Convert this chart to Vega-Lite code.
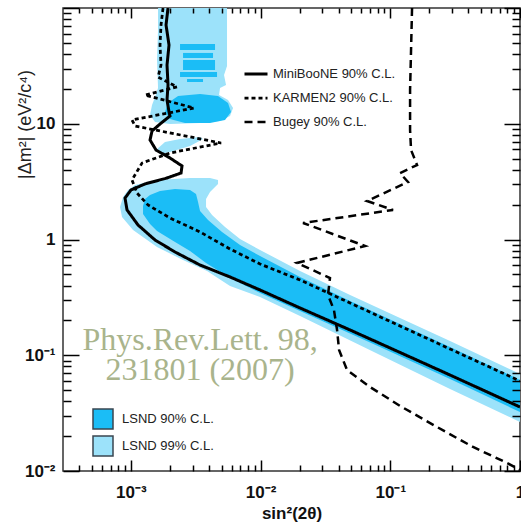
{
  "$schema": "https://vega.github.io/schema/vega-lite/v6.json",
  "width": 457,
  "height": 463,
  "autosize": "none",
  "padding": {"left": 63, "top": 8, "right": 1, "bottom": 52},
  "background": "white",
  "config": {
    "view": {"stroke": "#333333", "strokeWidth": 1.5},
    "font": "Liberation Sans"
  },
  "datasets": {
    "lsnd99": [
      {"cl": "LSND 99% C.L.", "poly": "L1", "o": 1, "x": 0.001621, "y": 100},
      {"cl": "LSND 99% C.L.", "poly": "L1", "o": 2, "x": 0.005515, "y": 100},
      {"cl": "LSND 99% C.L.", "poly": "L1", "o": 3, "x": 0.005515, "y": 31.5},
      {"cl": "LSND 99% C.L.", "poly": "L1", "o": 4, "x": 0.005229, "y": 26.4},
      {"cl": "LSND 99% C.L.", "poly": "L1", "o": 5, "x": 0.005418, "y": 21.6},
      {"cl": "LSND 99% C.L.", "poly": "L1", "o": 6, "x": 0.004871, "y": 20.4},
      {"cl": "LSND 99% C.L.", "poly": "L1", "o": 7, "x": 0.004786, "y": 17.7},
      {"cl": "LSND 99% C.L.", "poly": "L1", "o": 8, "x": 0.005614, "y": 16.04},
      {"cl": "LSND 99% C.L.", "poly": "L1", "o": 9, "x": 0.006137, "y": 13.68},
      {"cl": "LSND 99% C.L.", "poly": "L1", "o": 10, "x": 0.005817, "y": 11.67},
      {"cl": "LSND 99% C.L.", "poly": "L1", "o": 11, "x": 0.004871, "y": 10.56},
      {"cl": "LSND 99% C.L.", "poly": "L1", "o": 12, "x": 0.003416, "y": 10.15},
      {"cl": "LSND 99% C.L.", "poly": "L1", "o": 13, "x": 0.002005, "y": 9.95},
      {"cl": "LSND 99% C.L.", "poly": "L1", "o": 14, "x": 0.001537, "y": 10.35},
      {"cl": "LSND 99% C.L.", "poly": "L1", "o": 15, "x": 0.001406, "y": 11.9},
      {"cl": "LSND 99% C.L.", "poly": "L1", "o": 16, "x": 0.001457, "y": 14.52},
      {"cl": "LSND 99% C.L.", "poly": "L1", "o": 17, "x": 0.001537, "y": 17.02},
      {"cl": "LSND 99% C.L.", "poly": "L1", "o": 18, "x": 0.001621, "y": 20.4},
      {"cl": "LSND 99% C.L.", "poly": "L1", "o": 19, "x": 0.001592, "y": 35.5},
      {"cl": "LSND 99% C.L.", "poly": "L1", "o": 20, "x": 0.001621, "y": 64.5},
      {"cl": "LSND 99% C.L.", "poly": "L2", "o": 1, "x": 0.001564, "y": 5.93},
      {"cl": "LSND 99% C.L.", "poly": "L2", "o": 2, "x": 0.001835, "y": 6.96},
      {"cl": "LSND 99% C.L.", "poly": "L2", "o": 3, "x": 0.002395, "y": 7.39},
      {"cl": "LSND 99% C.L.", "poly": "L2", "o": 4, "x": 0.003416, "y": 7.68},
      {"cl": "LSND 99% C.L.", "poly": "L2", "o": 5, "x": 0.003602, "y": 7.39},
      {"cl": "LSND 99% C.L.", "poly": "L2", "o": 6, "x": 0.00286, "y": 6.43},
      {"cl": "LSND 99% C.L.", "poly": "L2", "o": 7, "x": 0.002005, "y": 5.7},
      {"cl": "LSND 99% C.L.", "poly": "L2", "o": 8, "x": 0.001679, "y": 5.48},
      {"cl": "LSND 99% C.L.", "poly": "L3", "o": 1, "x": 1.0, "y": 0.0689},
      {"cl": "LSND 99% C.L.", "poly": "L3", "o": 2, "x": 0.2889, "y": 0.1328},
      {"cl": "LSND 99% C.L.", "poly": "L3", "o": 3, "x": 0.1189, "y": 0.2099},
      {"cl": "LSND 99% C.L.", "poly": "L3", "o": 4, "x": 0.049, "y": 0.3317},
      {"cl": "LSND 99% C.L.", "poly": "L3", "o": 5, "x": 0.02016, "y": 0.534},
      {"cl": "LSND 99% C.L.", "poly": "L3", "o": 6, "x": 0.00991, "y": 0.812},
      {"cl": "LSND 99% C.L.", "poly": "L3", "o": 7, "x": 0.006947, "y": 1.01},
      {"cl": "LSND 99% C.L.", "poly": "L3", "o": 8, "x": 0.005323, "y": 1.283},
      {"cl": "LSND 99% C.L.", "poly": "L3", "o": 9, "x": 0.004227, "y": 1.628},
      {"cl": "LSND 99% C.L.", "poly": "L3", "o": 10, "x": 0.0038, "y": 1.909},
      {"cl": "LSND 99% C.L.", "poly": "L3", "o": 11, "x": 0.0038, "y": 2.24},
      {"cl": "LSND 99% C.L.", "poly": "L3", "o": 12, "x": 0.004079, "y": 2.57},
      {"cl": "LSND 99% C.L.", "poly": "L3", "o": 13, "x": 0.004701, "y": 3.02},
      {"cl": "LSND 99% C.L.", "poly": "L3", "o": 14, "x": 0.004701, "y": 3.27},
      {"cl": "LSND 99% C.L.", "poly": "L3", "o": 15, "x": 0.004079, "y": 3.4},
      {"cl": "LSND 99% C.L.", "poly": "L3", "o": 16, "x": 0.00286, "y": 3.4},
      {"cl": "LSND 99% C.L.", "poly": "L3", "o": 17, "x": 0.001592, "y": 3.27},
      {"cl": "LSND 99% C.L.", "poly": "L3", "o": 18, "x": 0.001077, "y": 2.96},
      {"cl": "LSND 99% C.L.", "poly": "L3", "o": 19, "x": 0.000952, "y": 2.68},
      {"cl": "LSND 99% C.L.", "poly": "L3", "o": 20, "x": 0.000871, "y": 2.33},
      {"cl": "LSND 99% C.L.", "poly": "L3", "o": 21, "x": 0.000826, "y": 1.909},
      {"cl": "LSND 99% C.L.", "poly": "L3", "o": 22, "x": 0.000855, "y": 1.564},
      {"cl": "LSND 99% C.L.", "poly": "L3", "o": 23, "x": 0.00104, "y": 1.208},
      {"cl": "LSND 99% C.L.", "poly": "L3", "o": 24, "x": 0.001592, "y": 0.862},
      {"cl": "LSND 99% C.L.", "poly": "L3", "o": 25, "x": 0.002526, "y": 0.665},
      {"cl": "LSND 99% C.L.", "poly": "L3", "o": 26, "x": 0.003868, "y": 0.534},
      {"cl": "LSND 99% C.L.", "poly": "L3", "o": 27, "x": 0.005817, "y": 0.3965},
      {"cl": "LSND 99% C.L.", "poly": "L3", "o": 28, "x": 0.00991, "y": 0.3186},
      {"cl": "LSND 99% C.L.", "poly": "L3", "o": 29, "x": 0.02016, "y": 0.2184},
      {"cl": "LSND 99% C.L.", "poly": "L3", "o": 30, "x": 0.0834, "y": 0.1005},
      {"cl": "LSND 99% C.L.", "poly": "L3", "o": 31, "x": 0.2889, "y": 0.0511},
      {"cl": "LSND 99% C.L.", "poly": "L3", "o": 32, "x": 1.0, "y": 0.0265}
    ],
    "lsnd90": [
      {"cl": "LSND 90% C.L.", "poly": "D2", "o": 1, "x": 0.002312, "y": 17.37},
      {"cl": "LSND 90% C.L.", "poly": "D2", "o": 2, "x": 0.003416, "y": 18.07},
      {"cl": "LSND 90% C.L.", "poly": "D2", "o": 3, "x": 0.004701, "y": 17.37},
      {"cl": "LSND 90% C.L.", "poly": "D2", "o": 4, "x": 0.005614, "y": 15.11},
      {"cl": "LSND 90% C.L.", "poly": "D2", "o": 5, "x": 0.005921, "y": 12.64},
      {"cl": "LSND 90% C.L.", "poly": "D2", "o": 6, "x": 0.005323, "y": 10.78},
      {"cl": "LSND 90% C.L.", "poly": "D2", "o": 7, "x": 0.004079, "y": 10.15},
      {"cl": "LSND 90% C.L.", "poly": "D2", "o": 8, "x": 0.002617, "y": 10.15},
      {"cl": "LSND 90% C.L.", "poly": "D2", "o": 9, "x": 0.002005, "y": 10.99},
      {"cl": "LSND 90% C.L.", "poly": "D2", "o": 10, "x": 0.001835, "y": 12.64},
      {"cl": "LSND 90% C.L.", "poly": "D2", "o": 11, "x": 0.001935, "y": 15.11},
      {"cl": "LSND 90% C.L.", "poly": "D3", "o": 1, "x": 1.0, "y": 0.0611},
      {"cl": "LSND 90% C.L.", "poly": "D3", "o": 2, "x": 0.2889, "y": 0.1179},
      {"cl": "LSND 90% C.L.", "poly": "D3", "o": 3, "x": 0.1189, "y": 0.1862},
      {"cl": "LSND 90% C.L.", "poly": "D3", "o": 4, "x": 0.049, "y": 0.2944},
      {"cl": "LSND 90% C.L.", "poly": "D3", "o": 5, "x": 0.02016, "y": 0.4745},
      {"cl": "LSND 90% C.L.", "poly": "D3", "o": 6, "x": 0.00991, "y": 0.72},
      {"cl": "LSND 90% C.L.", "poly": "D3", "o": 7, "x": 0.006947, "y": 0.897},
      {"cl": "LSND 90% C.L.", "poly": "D3", "o": 8, "x": 0.005047, "y": 1.161},
      {"cl": "LSND 90% C.L.", "poly": "D3", "o": 9, "x": 0.003937, "y": 1.474},
      {"cl": "LSND 90% C.L.", "poly": "D3", "o": 10, "x": 0.003416, "y": 1.763},
      {"cl": "LSND 90% C.L.", "poly": "D3", "o": 11, "x": 0.003296, "y": 2.11},
      {"cl": "LSND 90% C.L.", "poly": "D3", "o": 12, "x": 0.003181, "y": 2.47},
      {"cl": "LSND 90% C.L.", "poly": "D3", "o": 13, "x": 0.00286, "y": 2.68},
      {"cl": "LSND 90% C.L.", "poly": "D3", "o": 14, "x": 0.002191, "y": 2.73},
      {"cl": "LSND 90% C.L.", "poly": "D3", "o": 15, "x": 0.001679, "y": 2.63},
      {"cl": "LSND 90% C.L.", "poly": "D3", "o": 16, "x": 0.001406, "y": 2.42},
      {"cl": "LSND 90% C.L.", "poly": "D3", "o": 17, "x": 0.001287, "y": 2.24},
      {"cl": "LSND 90% C.L.", "poly": "D3", "o": 18, "x": 0.001242, "y": 1.948},
      {"cl": "LSND 90% C.L.", "poly": "D3", "o": 19, "x": 0.001242, "y": 1.661},
      {"cl": "LSND 90% C.L.", "poly": "D3", "o": 20, "x": 0.001406, "y": 1.361},
      {"cl": "LSND 90% C.L.", "poly": "D3", "o": 21, "x": 0.001592, "y": 1.184},
      {"cl": "LSND 90% C.L.", "poly": "D3", "o": 22, "x": 0.002191, "y": 0.952},
      {"cl": "LSND 90% C.L.", "poly": "D3", "o": 23, "x": 0.00286, "y": 0.796},
      {"cl": "LSND 90% C.L.", "poly": "D3", "o": 24, "x": 0.0038, "y": 0.627},
      {"cl": "LSND 90% C.L.", "poly": "D3", "o": 25, "x": 0.005817, "y": 0.465},
      {"cl": "LSND 90% C.L.", "poly": "D3", "o": 26, "x": 0.00991, "y": 0.345},
      {"cl": "LSND 90% C.L.", "poly": "D3", "o": 27, "x": 0.02016, "y": 0.2412},
      {"cl": "LSND 90% C.L.", "poly": "D3", "o": 28, "x": 0.0834, "y": 0.1179},
      {"cl": "LSND 90% C.L.", "poly": "D3", "o": 29, "x": 0.2889, "y": 0.0624},
      {"cl": "LSND 90% C.L.", "poly": "D3", "o": 30, "x": 1.0, "y": 0.0323}
    ],
    "stripes": [
      {"cl": "LSND 90% C.L.", "x": 0.002395, "x2": 0.004458, "y": 48.9, "y2": 43.4},
      {"cl": "LSND 90% C.L.", "x": 0.002526, "x2": 0.004302, "y": 40.9, "y2": 37.0},
      {"cl": "LSND 90% C.L.", "x": 0.002526, "x2": 0.004458, "y": 35.5, "y2": 29.1},
      {"cl": "LSND 90% C.L.", "x": 0.002395, "x2": 0.004619, "y": 28.0, "y2": 25.3},
      {"cl": "LSND 90% C.L.", "x": 0.002712, "x2": 0.003602, "y": 24.4, "y2": 22.9}
    ],
    "curves": [
      {"exp": "MiniBooNE 90% C.L.", "o": 1, "x": 0.001935, "y": 100},
      {"exp": "MiniBooNE 90% C.L.", "o": 2, "x": 0.001868, "y": 71.3},
      {"exp": "MiniBooNE 90% C.L.", "o": 3, "x": 0.00197, "y": 47.9},
      {"exp": "MiniBooNE 90% C.L.", "o": 4, "x": 0.001901, "y": 32.2},
      {"exp": "MiniBooNE 90% C.L.", "o": 5, "x": 0.001935, "y": 21.6},
      {"exp": "MiniBooNE 90% C.L.", "o": 6, "x": 0.001901, "y": 16.04},
      {"exp": "MiniBooNE 90% C.L.", "o": 7, "x": 0.00197, "y": 12.64},
      {"exp": "MiniBooNE 90% C.L.", "o": 8, "x": 0.002005, "y": 11.67},
      {"exp": "MiniBooNE 90% C.L.", "o": 9, "x": 0.001679, "y": 9.95},
      {"exp": "MiniBooNE 90% C.L.", "o": 10, "x": 0.001457, "y": 8.66},
      {"exp": "MiniBooNE 90% C.L.", "o": 11, "x": 0.001406, "y": 7.24},
      {"exp": "MiniBooNE 90% C.L.", "o": 12, "x": 0.001564, "y": 5.93},
      {"exp": "MiniBooNE 90% C.L.", "o": 13, "x": 0.002005, "y": 5.06},
      {"exp": "MiniBooNE 90% C.L.", "o": 14, "x": 0.002481, "y": 4.32},
      {"exp": "MiniBooNE 90% C.L.", "o": 15, "x": 0.002438, "y": 3.75},
      {"exp": "MiniBooNE 90% C.L.", "o": 16, "x": 0.001901, "y": 3.4},
      {"exp": "MiniBooNE 90% C.L.", "o": 17, "x": 0.001287, "y": 3.02},
      {"exp": "MiniBooNE 90% C.L.", "o": 18, "x": 0.001003, "y": 2.68},
      {"exp": "MiniBooNE 90% C.L.", "o": 19, "x": 0.000902, "y": 2.28},
      {"exp": "MiniBooNE 90% C.L.", "o": 20, "x": 0.000935, "y": 1.8},
      {"exp": "MiniBooNE 90% C.L.", "o": 21, "x": 0.001136, "y": 1.335},
      {"exp": "MiniBooNE 90% C.L.", "o": 22, "x": 0.001537, "y": 0.99},
      {"exp": "MiniBooNE 90% C.L.", "o": 23, "x": 0.002191, "y": 0.78},
      {"exp": "MiniBooNE 90% C.L.", "o": 24, "x": 0.003416, "y": 0.602},
      {"exp": "MiniBooNE 90% C.L.", "o": 25, "x": 0.005817, "y": 0.4745},
      {"exp": "MiniBooNE 90% C.L.", "o": 26, "x": 0.00991, "y": 0.3664},
      {"exp": "MiniBooNE 90% C.L.", "o": 27, "x": 0.02016, "y": 0.2561},
      {"exp": "MiniBooNE 90% C.L.", "o": 28, "x": 0.049, "y": 0.1653},
      {"exp": "MiniBooNE 90% C.L.", "o": 29, "x": 0.1189, "y": 0.1057},
      {"exp": "MiniBooNE 90% C.L.", "o": 30, "x": 0.2889, "y": 0.0675},
      {"exp": "MiniBooNE 90% C.L.", "o": 31, "x": 1.0, "y": 0.0357},
      {"exp": "KARMEN2 90% C.L.", "o": 1, "x": 0.001771, "y": 100},
      {"exp": "KARMEN2 90% C.L.", "o": 2, "x": 0.001709, "y": 71.3},
      {"exp": "KARMEN2 90% C.L.", "o": 3, "x": 0.001679, "y": 47.9},
      {"exp": "KARMEN2 90% C.L.", "o": 4, "x": 0.001709, "y": 32.2},
      {"exp": "KARMEN2 90% C.L.", "o": 5, "x": 0.001621, "y": 25.3},
      {"exp": "KARMEN2 90% C.L.", "o": 6, "x": 0.00227, "y": 20.8},
      {"exp": "KARMEN2 90% C.L.", "o": 7, "x": 0.001287, "y": 17.7},
      {"exp": "KARMEN2 90% C.L.", "o": 8, "x": 0.00307, "y": 13.68},
      {"exp": "KARMEN2 90% C.L.", "o": 9, "x": 0.001021, "y": 10.78},
      {"exp": "KARMEN2 90% C.L.", "o": 10, "x": 0.001077, "y": 9.56},
      {"exp": "KARMEN2 90% C.L.", "o": 11, "x": 0.00496, "y": 6.82},
      {"exp": "KARMEN2 90% C.L.", "o": 12, "x": 0.002005, "y": 5.59},
      {"exp": "KARMEN2 90% C.L.", "o": 13, "x": 0.00122, "y": 4.58},
      {"exp": "KARMEN2 90% C.L.", "o": 14, "x": 0.001021, "y": 3.27},
      {"exp": "KARMEN2 90% C.L.", "o": 15, "x": 0.001116, "y": 2.52},
      {"exp": "KARMEN2 90% C.L.", "o": 16, "x": 0.001357, "y": 1.987},
      {"exp": "KARMEN2 90% C.L.", "o": 17, "x": 0.002005, "y": 1.534},
      {"exp": "KARMEN2 90% C.L.", "o": 18, "x": 0.003416, "y": 1.161},
      {"exp": "KARMEN2 90% C.L.", "o": 19, "x": 0.005817, "y": 0.828},
      {"exp": "KARMEN2 90% C.L.", "o": 20, "x": 0.00991, "y": 0.614},
      {"exp": "KARMEN2 90% C.L.", "o": 21, "x": 0.02016, "y": 0.4469},
      {"exp": "KARMEN2 90% C.L.", "o": 22, "x": 0.049, "y": 0.2828},
      {"exp": "KARMEN2 90% C.L.", "o": 23, "x": 0.1189, "y": 0.179},
      {"exp": "KARMEN2 90% C.L.", "o": 24, "x": 0.2889, "y": 0.1133},
      {"exp": "KARMEN2 90% C.L.", "o": 25, "x": 1.0, "y": 0.0599},
      {"exp": "Bugey 90% C.L.", "o": 1, "x": 0.1472, "y": 100},
      {"exp": "Bugey 90% C.L.", "o": 2, "x": 0.1446, "y": 43.4},
      {"exp": "Bugey 90% C.L.", "o": 3, "x": 0.1421, "y": 19.57},
      {"exp": "Bugey 90% C.L.", "o": 4, "x": 0.1421, "y": 8.83},
      {"exp": "Bugey 90% C.L.", "o": 5, "x": 0.1446, "y": 5.93},
      {"exp": "Bugey 90% C.L.", "o": 6, "x": 0.1609, "y": 4.4},
      {"exp": "Bugey 90% C.L.", "o": 7, "x": 0.1189, "y": 3.75},
      {"exp": "Bugey 90% C.L.", "o": 8, "x": 0.1371, "y": 3.14},
      {"exp": "Bugey 90% C.L.", "o": 9, "x": 0.0662, "y": 2.15},
      {"exp": "Bugey 90% C.L.", "o": 10, "x": 0.105, "y": 1.8},
      {"exp": "Bugey 90% C.L.", "o": 11, "x": 0.02126, "y": 1.389},
      {"exp": "Bugey 90% C.L.", "o": 12, "x": 0.0639, "y": 0.879},
      {"exp": "Bugey 90% C.L.", "o": 13, "x": 0.01911, "y": 0.627},
      {"exp": "Bugey 90% C.L.", "o": 14, "x": 0.0343, "y": 0.465},
      {"exp": "Bugey 90% C.L.", "o": 15, "x": 0.0331, "y": 0.3317},
      {"exp": "Bugey 90% C.L.", "o": 16, "x": 0.0368, "y": 0.246},
      {"exp": "Bugey 90% C.L.", "o": 17, "x": 0.0389, "y": 0.1653},
      {"exp": "Bugey 90% C.L.", "o": 18, "x": 0.0403, "y": 0.111},
      {"exp": "Bugey 90% C.L.", "o": 19, "x": 0.0464, "y": 0.0746},
      {"exp": "Bugey 90% C.L.", "o": 20, "x": 0.0698, "y": 0.0532},
      {"exp": "Bugey 90% C.L.", "o": 21, "x": 0.1189, "y": 0.0365},
      {"exp": "Bugey 90% C.L.", "o": 22, "x": 0.2293, "y": 0.024},
      {"exp": "Bugey 90% C.L.", "o": 23, "x": 0.4345, "y": 0.01612},
      {"exp": "Bugey 90% C.L.", "o": 24, "x": 0.7946, "y": 0.01173},
      {"exp": "Bugey 90% C.L.", "o": 25, "x": 1.0, "y": 0.0102}
    ],
    "note": [
      {"t": "Phys.Rev.Lett. 98,", "x": 0.003416, "y": 0.111},
      {"t": "231801 (2007)", "x": 0.003416, "y": 0.0611}
    ]
  },
  "layer": [
    {
      "data": {"name": "lsnd99"},
      "mark": {"type": "line", "filled": true, "clip": true, "interpolate": "linear"},
      "encoding": {
        "x": {
          "field": "x", "type": "quantitative",
          "scale": {"type": "log", "domain": [0.0003, 1], "nice": false},
          "axis": {
            "orient": "bottom", "offset": -11, "tickSize": 11, "ticks": true, "tickColor": "black", "tickOpacity": 1, "tickWidth": 1.5, "grid": false, "domain": false, "zindex": 1,
            "values": [0.001, 0.01, 0.1, 1],
            "labelExpr": "datum.value == 0.001 ? '10⁻³' : datum.value == 0.01 ? '10⁻²' : datum.value == 0.1 ? '10⁻¹' : '1'",
            "labelFont": "Liberation Sans", "labelFontWeight": "bold", "labelFontSize": 17, "labelColor": "#111111",
            "labelPadding": 26, "labelBaseline": "alphabetic", "labelFlush": false, "labelOverlap": false,
            "title": "sin²(2θ)", "titleFont": "Liberation Sans", "titleFontWeight": "bold", "titleFontSize": 17, "titleColor": "#111111",
            "titleY": 58, "titleBaseline": "alphabetic"
          }
        },
        "y": {
          "field": "y", "type": "quantitative",
          "scale": {"type": "log", "domain": [0.01, 100], "nice": false},
          "axis": {
            "orient": "left", "offset": -16, "tickSize": 16, "ticks": true, "tickColor": "black", "tickOpacity": 1, "tickWidth": 1.5, "grid": false, "domain": false, "zindex": 1,
            "values": [0.01, 0.1, 1, 10, 100],
            "labelExpr": "datum.value == 0.01 ? '10⁻²' : datum.value == 0.1 ? '10⁻¹' : datum.value == 1 ? '1' : datum.value == 10 ? '10' : ''",
            "labelFont": "Liberation Sans", "labelFontWeight": "bold", "labelFontSize": 17, "labelColor": "#111111",
            "labelPadding": 8, "labelBaseline": "middle", "labelFlush": false, "labelOverlap": false,
            "title": "|Δm²|  (eV²/c⁴)", "titleFont": "Liberation Sans", "titleFontWeight": "normal", "titleFontSize": 18, "titleColor": "#222222",
            "titleX": -54, "titleY": 116, "titleAngle": -90, "titleAlign": "center", "titleBaseline": "middle"
          }
        },
        "color": {
          "field": "cl", "type": "nominal",
          "scale": {"domain": ["LSND 90% C.L.", "LSND 99% C.L."], "range": ["#1BBDF6", "#9CE2FA"]},
          "legend": {
            "title": null, "orient": "none", "legendX": 29, "legendY": 400,
            "symbolType": "square", "symbolSize": 400, "symbolStrokeColor": "#3a4650", "symbolStrokeWidth": 1.5,
            "labelFont": "Liberation Sans", "labelFontSize": 13, "labelColor": "#222222", "labelOffset": 8, "rowPadding": 1
          }
        },
        "detail": {"field": "poly"},
        "order": {"field": "o", "type": "quantitative"}
      }
    },
    {
      "data": {"name": "lsnd90"},
      "mark": {"type": "line", "filled": true, "clip": true, "interpolate": "linear"},
      "encoding": {
        "x": {
          "field": "x", "type": "quantitative",
          "axis": {
            "orient": "bottom", "offset": -6, "tickSize": 6, "ticks": true, "tickColor": "black", "tickOpacity": 1, "tickWidth": 1.5, "grid": false, "domain": false, "zindex": 1,
            "values": [0.0004, 0.0005, 0.0006, 0.0007, 0.0008, 0.0009, 0.002, 0.003, 0.004, 0.005, 0.006, 0.007, 0.008, 0.009, 0.02, 0.03, 0.04, 0.05, 0.06, 0.07, 0.08, 0.09, 0.2, 0.3, 0.4, 0.5, 0.6, 0.7, 0.8, 0.9],
            "labels": false, "title": null
          }
        },
        "y": {
          "field": "y", "type": "quantitative",
          "axis": {
            "orient": "left", "offset": -8, "tickSize": 8, "ticks": true, "tickColor": "black", "tickOpacity": 1, "tickWidth": 1.5, "grid": false, "domain": false, "zindex": 1,
            "values": [0.02, 0.03, 0.04, 0.05, 0.06, 0.07, 0.08, 0.09, 0.2, 0.3, 0.4, 0.5, 0.6, 0.7, 0.8, 0.9, 2, 3, 4, 5, 6, 7, 8, 9, 20, 30, 40, 50, 60, 70, 80, 90],
            "labels": false, "title": null
          }
        },
        "color": {"field": "cl", "type": "nominal"},
        "detail": {"field": "poly"},
        "order": {"field": "o", "type": "quantitative"}
      }
    },
    {
      "data": {"name": "stripes"},
      "mark": {"type": "rect", "clip": true},
      "encoding": {
        "x": {
          "field": "x", "type": "quantitative",
          "axis": {"orient": "top", "offset": -10, "tickSize": 10, "ticks": true, "tickColor": "black", "tickOpacity": 1, "tickWidth": 1.5, "grid": false, "domain": false, "zindex": 1, "values": [0.001, 0.01, 0.1, 1], "labels": false, "title": null}
        },
        "x2": {"field": "x2"},
        "y": {
          "field": "y", "type": "quantitative",
          "axis": {"orient": "right", "offset": -16, "tickSize": 16, "ticks": true, "tickColor": "black", "tickOpacity": 1, "tickWidth": 1.5, "grid": false, "domain": false, "zindex": 1, "values": [0.01, 0.1, 1, 10, 100], "labels": false, "title": null}
        },
        "y2": {"field": "y2"},
        "color": {"field": "cl", "type": "nominal"}
      }
    },
    {
      "data": {"name": "curves"},
      "mark": {"type": "line", "color": "black", "clip": true, "interpolate": "linear"},
      "encoding": {
        "x": {
          "field": "x", "type": "quantitative",
          "axis": {
            "orient": "top", "offset": -5, "tickSize": 5, "ticks": true, "tickColor": "black", "tickOpacity": 1, "tickWidth": 1.5, "grid": false, "domain": false, "zindex": 1,
            "values": [0.0004, 0.0005, 0.0006, 0.0007, 0.0008, 0.0009, 0.002, 0.003, 0.004, 0.005, 0.006, 0.007, 0.008, 0.009, 0.02, 0.03, 0.04, 0.05, 0.06, 0.07, 0.08, 0.09, 0.2, 0.3, 0.4, 0.5, 0.6, 0.7, 0.8, 0.9],
            "labels": false, "title": null
          }
        },
        "y": {
          "field": "y", "type": "quantitative",
          "axis": {
            "orient": "right", "offset": -8, "tickSize": 8, "ticks": true, "tickColor": "black", "tickOpacity": 1, "tickWidth": 1.5, "grid": false, "domain": false, "zindex": 1,
            "values": [0.02, 0.03, 0.04, 0.05, 0.06, 0.07, 0.08, 0.09, 0.2, 0.3, 0.4, 0.5, 0.6, 0.7, 0.8, 0.9, 2, 3, 4, 5, 6, 7, 8, 9, 20, 30, 40, 50, 60, 70, 80, 90],
            "labels": false, "title": null
          }
        },
        "strokeDash": {
          "field": "exp", "type": "nominal",
          "scale": {"domain": ["MiniBooNE 90% C.L.", "KARMEN2 90% C.L.", "Bugey 90% C.L."], "range": [[1, 0], [4, 3], [8, 5]]},
          "legend": {
            "title": null, "orient": "none", "legendX": 180, "legendY": 53,
            "symbolType": "stroke", "symbolSize": 529, "symbolStrokeColor": "black",
            "labelFont": "Liberation Sans", "labelFontSize": 13, "labelColor": "#222222", "labelOffset": 4, "rowPadding": 4
          }
        },
        "strokeWidth": {
          "field": "exp", "type": "nominal",
          "scale": {"domain": ["MiniBooNE 90% C.L.", "KARMEN2 90% C.L.", "Bugey 90% C.L."], "range": [3, 2.5, 2.5]},
          "legend": {
            "title": null, "orient": "none", "legendX": 180, "legendY": 53,
            "symbolType": "stroke", "symbolSize": 529, "symbolStrokeColor": "black",
            "labelFont": "Liberation Sans", "labelFontSize": 13, "labelColor": "#222222", "labelOffset": 4, "rowPadding": 4
          }
        },
        "order": {"field": "o", "type": "quantitative"}
      }
    },
    {
      "data": {"name": "note"},
      "mark": {"type": "text", "font": "Liberation Serif", "fontSize": 32, "color": "#A9B48C", "align": "center", "baseline": "alphabetic"},
      "encoding": {
        "x": {"field": "x", "type": "quantitative", "axis": null},
        "y": {"field": "y", "type": "quantitative", "axis": null},
        "text": {"field": "t"}
      }
    }
  ],
  "resolve": {"axis": {"x": "independent", "y": "independent"}}
}
